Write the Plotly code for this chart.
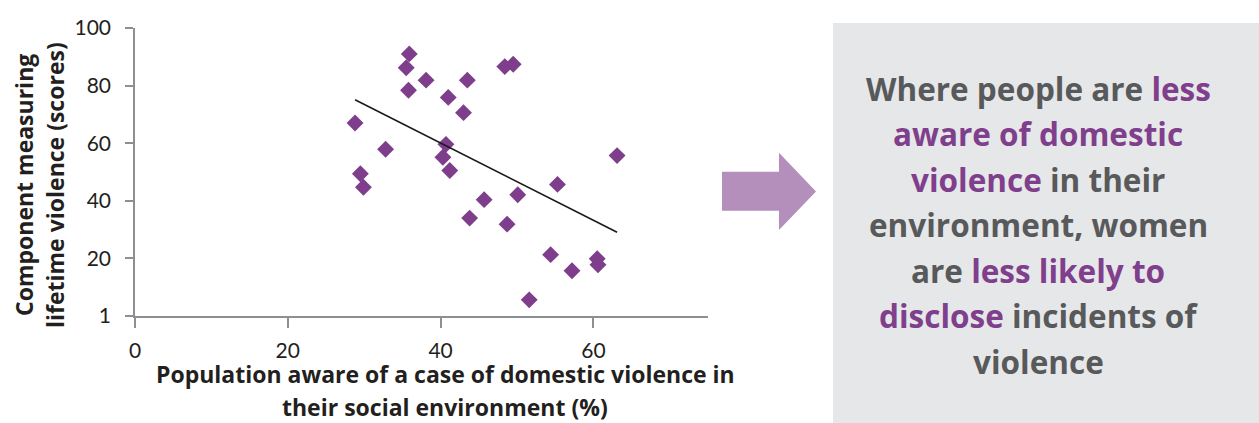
import numpy as np
import plotly.graph_objects as go

# Survey data: awareness of domestic violence vs. lifetime violence component score
awareness_pct = [35.9, 35.5, 38.1, 43.5, 35.8, 41.0, 43.0, 48.4, 49.5, 28.8,
                 32.8, 40.7, 40.3, 41.2, 29.5, 29.9, 63.1, 55.3, 50.1, 45.7,
                 43.8, 48.7, 54.4, 57.2, 60.5, 60.6, 51.6]
violence_score = [91.0, 86.2, 81.9, 81.9, 78.4, 75.9, 70.6, 86.6, 87.4, 67.0,
                  57.9, 59.6, 55.1, 50.5, 49.4, 44.7, 55.7, 45.7, 42.1, 40.4,
                  34.0, 31.9, 21.3, 15.7, 19.9, 17.8, 5.6]

x_tick_vals = [0, 20, 40, 60]
y_tick_vals = [0, 20, 40, 60, 80, 100]
y_tick_text = ["1", "20", "40", "60", "80", "100"]

x_title_lines = ["Population aware of a case of domestic violence in",
                 "their social environment (%)"]
y_title_lines = ["Component measuring", "lifetime violence (scores)"]

GRAY_TXT = "#58595b"
PURPLE = "#7f3f8c"
# Message panel, one entry per line: (text, colour) segments
panel_lines = [
    [("Where people are ", GRAY_TXT), ("less", PURPLE)],
    [("aware of domestic", PURPLE)],
    [("violence", PURPLE), (" in their", GRAY_TXT)],
    [("environment, women", GRAY_TXT)],
    [("are ", GRAY_TXT), ("less likely to", PURPLE)],
    [("disclose", PURPLE), (" incidents of", GRAY_TXT)],
    [("violence", GRAY_TXT)],
]

# Page geometry (pixels) and helpers to convert to paper coordinates
W, H = 1259, 423
L, T, B = 135, 28, 107
PW = W - L
PH = H - T - B


def px(x):
    return (x - L) / PW


def py(y):
    return (H - B - y) / PH


TICK_FONT = "Lato"
BOLD_FONT = "Open Sans"
AXIS_GRAY = "#8e8f92"
MARKER = "#7e3e8c"

# Least-squares trend line over the observed range
slope, intercept = np.polyfit(awareness_pct, violence_score, 1)
trend_x = np.array([min(awareness_pct), max(awareness_pct)])
trend_y = slope * trend_x + intercept

fig = go.Figure()
fig.add_trace(go.Scatter(
    x=awareness_pct, y=violence_score, mode="markers",
    marker=dict(symbol="diamond", size=13, color=MARKER, line=dict(width=0)),
    showlegend=False, hoverinfo="x+y",
))
fig.add_trace(go.Scatter(
    x=trend_x, y=trend_y, mode="lines",
    line=dict(color="#1a1a1a", width=1.6),
    showlegend=False, hoverinfo="skip",
))

axis_common = dict(
    showgrid=False, zeroline=False, showline=True,
    linecolor=AXIS_GRAY, linewidth=1.5,
    ticks="outside", tickcolor=AXIS_GRAY, tickwidth=1.5,
    tickfont=dict(family=TICK_FONT, size=21, color="#231f20"),
)

fig.update_layout(
    width=W, height=H,
    margin=dict(l=L, r=0, t=T, b=B),
    paper_bgcolor="white", plot_bgcolor="white",
    xaxis=dict(axis_common, domain=[0, px(708)], range=[0, 75],
               tickvals=x_tick_vals, ticklen=10, ticklabelstandoff=5),
    yaxis=dict(axis_common, range=[0, 100], tickvals=y_tick_vals,
               ticktext=y_tick_text, ticklen=8, ticklabelstandoff=10),
)

shapes = []
# Grey message panel
shapes.append(dict(type="rect", xref="paper", yref="paper",
                   x0=px(833), x1=px(1259), y0=py(423), y1=py(23),
                   fillcolor="#e6e7e8", line=dict(width=0), layer="below"))
# Arrow pointing to the panel
arrow_pts = [(722, 171.7), (779, 171.7), (779, 152.7), (816, 191.4),
             (779, 230), (779, 210.7), (722, 210.7)]
path = "M " + " L ".join(f"{px(a):.5f},{py(b):.5f}" for a, b in arrow_pts) + " Z"
shapes.append(dict(type="path", xref="paper", yref="paper", path=path,
                   fillcolor="#b48fbb", line=dict(width=0)))
fig.update_layout(shapes=shapes)

annotations = []
# X axis title (two centred lines)
for i, line in enumerate(x_title_lines):
    annotations.append(dict(
        xref="paper", yref="paper", x=px(445), y=py(374 + 33 * i),
        text=f"<b>{line}</b>", showarrow=False, xanchor="center", yanchor="middle",
        font=dict(family=BOLD_FONT, size=23, color="#231f20"),
    ))
# Y axis title (two rotated lines)
for i, line in enumerate(y_title_lines):
    annotations.append(dict(
        xref="paper", yref="paper", x=px(24 + 31 * i), y=py(185),
        text=f"<b>{line}</b>", showarrow=False, textangle=-90,
        xanchor="center", yanchor="middle",
        font=dict(family=BOLD_FONT, size=23, color="#231f20"),
    ))
# Panel message
for i, segs in enumerate(panel_lines):
    txt = "".join(f"<span style='color:{c}'>{t}</span>" for t, c in segs)
    annotations.append(dict(
        xref="paper", yref="paper", x=px(1038), y=py(88 + 45.5 * i),
        text=f"<b>{txt}</b>", showarrow=False, xanchor="center", yanchor="middle",
        font=dict(family=BOLD_FONT, size=31.5, color=GRAY_TXT),
    ))
fig.update_layout(annotations=annotations)

fig.write_html("out.html")
